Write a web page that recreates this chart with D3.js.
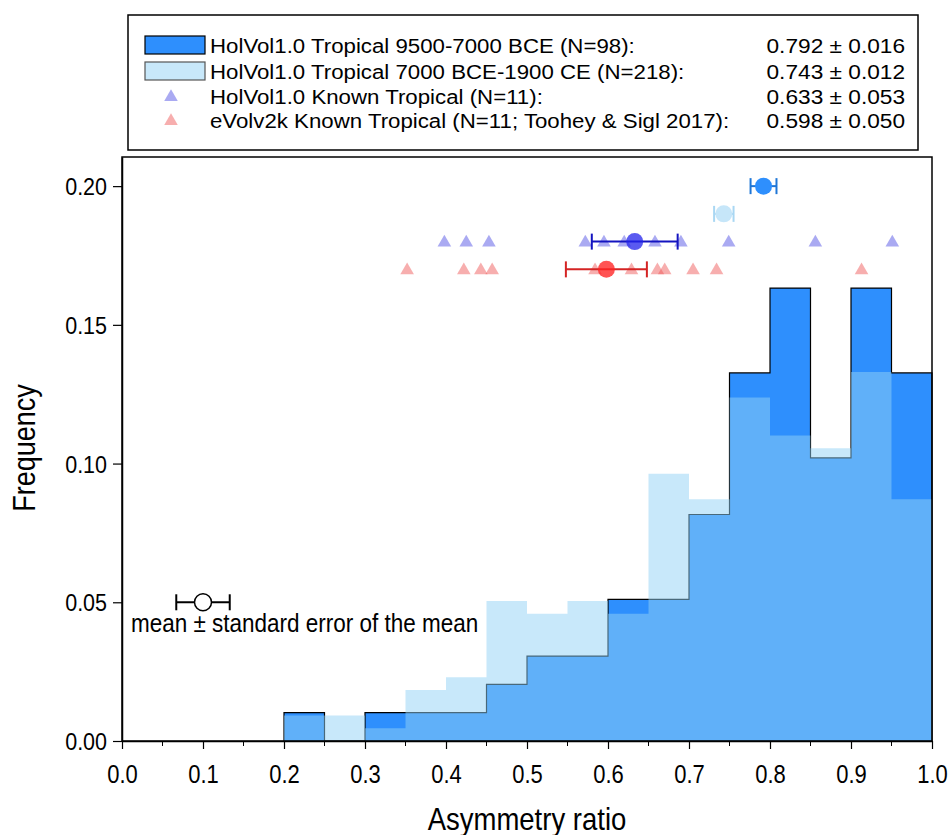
<!DOCTYPE html>
<html>
<head>
<meta charset="utf-8">
<script src="https://cdn.jsdelivr.net/npm/d3@7"></script>
<style>
  body { margin: 0; background: #fff; }
  text { font-family: "Liberation Sans", Arial, sans-serif; fill: #000; }
</style>
</head>
<body>
<div id="chart"></div>
<script>
var svgWidth = 950;
var svgHeight = 835;

// histogram bins (left edges), width 0.05
var binStarts = [0.20, 0.25, 0.30, 0.35, 0.40, 0.45, 0.50, 0.55, 0.60, 0.65, 0.70, 0.75, 0.80, 0.85, 0.90, 0.95];
var binWidth = 0.05;

// counts per bin
var earlyN = 98;
var earlyCounts = [1, 0, 1, 1, 1, 2, 3, 3, 5, 5, 8, 13, 16, 10, 16, 13];
var lateN = 218;
var lateCounts = [2, 2, 1, 4, 5, 11, 10, 11, 10, 21, 19, 27, 24, 23, 29, 19];

// individual known tropical eruptions
var holvolKnown = [0.398, 0.425, 0.453, 0.572, 0.595, 0.620, 0.658, 0.690, 0.749, 0.856, 0.951];
var evolvKnown = [0.352, 0.422, 0.443, 0.457, 0.584, 0.629, 0.661, 0.670, 0.705, 0.734, 0.913];

// means and standard errors
var meanLabels = ["HolVol1.0 Tropical 9500-7000 BCE (N=98):",
                  "HolVol1.0 Tropical 7000 BCE-1900 CE (N=218):",
                  "HolVol1.0 Known Tropical (N=11):",
                  "eVolv2k Known Tropical (N=11; Toohey & Sigl 2017):"];
var meanValues = [0.792, 0.743, 0.633, 0.598];
var meanErrors = [0.016, 0.012, 0.053, 0.050];
var meanRows = [0.20, 0.19, 0.18, 0.17];

var xTicks = [0, 0.1, 0.2, 0.3, 0.4, 0.5, 0.6, 0.7, 0.8, 0.9, 1.0];
var yTicks = [0, 0.05, 0.10, 0.15, 0.20];

// colours
var darkBlue = "#2e8ffd";
var lightBlue = "rgba(145,209,245,0.5)";
var stretch = 1.15;  // text in the original looks a bit tall

var svg = d3.select("#chart")
    .append("svg")
    .attr("width", svgWidth)
    .attr("height", svgHeight);

var x = d3.scaleLinear().domain([0, 1]).range([122, 932]);
var y = d3.scaleLinear().domain([0, 0.2105]).range([741, 157]);

function addText(g, tx, ty, str, size, anchor, rot, sx, sy) {
    sx = sx || 1;
    sy = sy || stretch;
    return g.append("text")
        .attr("transform", `translate(${tx},${ty})` + (rot ? ` rotate(${rot})` : "") + ` scale(${sx},${sy})`)
        .attr("text-anchor", anchor || "start")
        .attr("font-size", size + "px")
        .text(str);
}

// step points for histogram
function stepPoints(counts, n) {
    var pts = binStarts.map((b, i) => [b, counts[i] / n]);
    pts.push([binStarts[binStarts.length - 1] + binWidth, counts[counts.length - 1] / n]);
    return pts;
}
var earlyPts = stepPoints(earlyCounts, earlyN);
var latePts = stepPoints(lateCounts, lateN);

var area = d3.area()
    .x(d => x(d[0]))
    .y0(y(0))
    .y1(d => y(d[1]))
    .curve(d3.curveStepAfter);

var line = d3.line()
    .x(d => x(d[0]))
    .y(d => y(d[1]))
    .curve(d3.curveStepAfter);

// early histogram (solid blue with black outline)
svg.append("path")
    .attr("d", area(earlyPts))
    .attr("fill", darkBlue);

var outlinePts = [[binStarts[0], 0]].concat(earlyPts).concat([[1.0, 0]]);
svg.append("path")
    .attr("d", line(outlinePts))
    .attr("fill", "none")
    .attr("stroke", "#000")
    .attr("stroke-width", 1.2);

// late histogram (translucent light blue on top)
svg.append("path")
    .attr("d", area(latePts))
    .attr("fill", lightBlue);

// triangles for known eruptions
var tri = d3.symbol().type(d3.symbolTriangle).size(80);

svg.selectAll(".tri-holvol")
    .data(holvolKnown)
    .enter().append("path")
    .attr("class", "tri-holvol")
    .attr("d", tri)
    .attr("transform", d => `translate(${x(d)},${y(0.18) + 1})`)
    .attr("fill", "rgba(100,100,232,0.55)");

svg.selectAll(".tri-evolv")
    .data(evolvKnown)
    .enter().append("path")
    .attr("class", "tri-evolv")
    .attr("d", tri)
    .attr("transform", d => `translate(${x(d)},${y(0.17) + 1})`)
    .attr("fill", "rgba(238,85,85,0.48)");

// mean markers with error bars
var markerFill = [darkBlue, "#c6e6f9", "rgba(35,35,235,0.75)", "rgba(255,35,35,0.78)"];
var barColor = ["#1f76d6", "#a9d7f3", "#1414c0", "#d42424"];

function errorBar(g, m, e, row, stroke, fill) {
    var cy = y(row);
    g.append("line")
        .attr("x1", x(m - e)).attr("x2", x(m + e))
        .attr("y1", cy).attr("y2", cy)
        .attr("stroke", stroke).attr("stroke-width", 2);
    [m - e, m + e].forEach(function(v) {
        g.append("line")
            .attr("x1", x(v)).attr("x2", x(v))
            .attr("y1", cy - 8).attr("y2", cy + 8)
            .attr("stroke", stroke).attr("stroke-width", 2);
    });
    g.append("circle")
        .attr("cx", x(m)).attr("cy", cy)
        .attr("r", 8.5)
        .attr("fill", fill)
        .attr("stroke", fill === "#fff" ? "#000" : "none")
        .attr("stroke-width", 1.5);
}

var meansGroup = svg.append("g");
meanValues.forEach(function(m, i) {
    errorBar(meansGroup, m, meanErrors[i], meanRows[i], barColor[i], markerFill[i]);
});

// key for the marker
var keyGroup = svg.append("g");
errorBar(keyGroup, 0.1, 0.033, 0.05, "#000", "#fff");
addText(keyGroup, 131, 632, "mean \u00b1 standard error of the mean", 22.5);

// axes
var bottomAxis = d3.axisBottom(x)
    .tickValues(xTicks)
    .tickFormat(d3.format(".1f"))
    .tickSize(8)
    .tickSizeOuter(0);
var leftAxis = d3.axisLeft(y)
    .tickValues(yTicks)
    .tickFormat(d3.format(".2f"))
    .tickSize(9)
    .tickSizeOuter(0);

var xAxis = svg.append("g")
    .attr("transform", `translate(0,${y(0)})`)
    .call(bottomAxis);
xAxis.selectAll("text")
    .attr("font-size", "22px")
    .attr("font-family", "Liberation Sans, Arial, sans-serif")
    .attr("y", 42 / stretch)
    .attr("dy", 0)
    .attr("transform", `scale(1,${stretch})`);

// minor x ticks
svg.selectAll(".minor")
    .data(xTicks.slice(0, -1).map(d => d + 0.05))
    .enter().append("line")
    .attr("class", "minor")
    .attr("x1", d => x(d)).attr("x2", d => x(d))
    .attr("y1", y(0)).attr("y2", y(0) + 5)
    .attr("stroke", "#000");

var yAxis = svg.append("g")
    .attr("transform", `translate(${x(0)},0)`)
    .call(leftAxis);
yAxis.selectAll("text")
    .attr("font-size", "21.5px")
    .attr("font-family", "Liberation Sans, Arial, sans-serif")
    .attr("x", -15)
    .attr("dy", 8.5 / stretch)
    .attr("transform", `scale(1,${stretch})`);

svg.selectAll(".domain").attr("stroke-width", 1.5);
svg.selectAll(".tick line").attr("stroke-width", 1.2);

// frame
svg.append("rect")
    .attr("x", x(0)).attr("y", y.range()[1])
    .attr("width", x(1) - x(0))
    .attr("height", y(0) - y.range()[1])
    .attr("fill", "none")
    .attr("stroke", "#000")
    .attr("stroke-width", 1.5);

// axis labels
addText(svg, 527, 830, "Asymmetry ratio", 27.5, "middle");
addText(svg, 35, 448, "Frequency", 27, "middle", -90);

// legend
var legend = svg.append("g");
legend.append("rect")
    .attr("x", 128).attr("y", 15)
    .attr("width", 790).attr("height", 135)
    .attr("fill", "#fff")
    .attr("stroke", "#000")
    .attr("stroke-width", 1.5);

var rowY = [45, 71, 96, 120];
legend.append("rect")
    .attr("x", 145).attr("y", rowY[0] - 9)
    .attr("width", 60).attr("height", 18)
    .attr("fill", darkBlue).attr("stroke", "#000").attr("stroke-width", 1.2);
legend.append("rect")
    .attr("x", 145).attr("y", rowY[1] - 9)
    .attr("width", 60).attr("height", 18)
    .attr("fill", "#c8e8fa").attr("stroke", "#555").attr("stroke-width", 1.2);
legend.append("path")
    .attr("d", tri)
    .attr("transform", `translate(171,${rowY[2] + 1})`)
    .attr("fill", "rgba(100,100,232,0.55)");
legend.append("path")
    .attr("d", tri)
    .attr("transform", `translate(171,${rowY[3] + 1})`)
    .attr("fill", "rgba(238,85,85,0.48)");

// legend rows are tight, so widen the text instead of making it taller
meanLabels.forEach(function(lbl, i) {
    addText(legend, 210, rowY[i] + 7.5, lbl, 21, "start", 0, 1.06, 1);
    addText(legend, 905, rowY[i] + 7.5,
        d3.format(".3f")(meanValues[i]) + " \u00b1 " + d3.format(".3f")(meanErrors[i]), 21, "end", 0, 1.08, 1);
});
</script>
</body>
</html>
